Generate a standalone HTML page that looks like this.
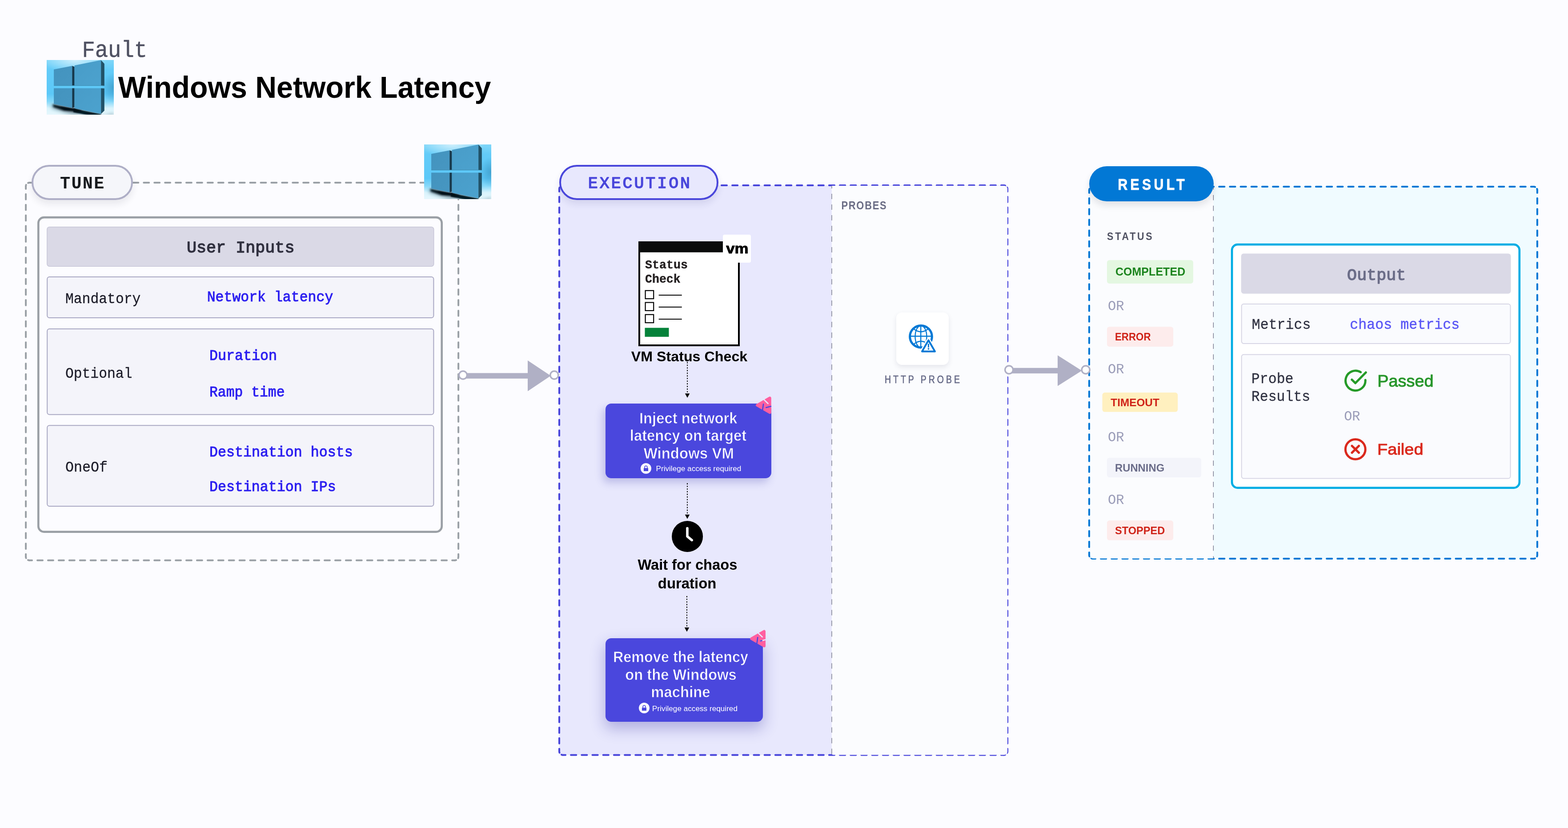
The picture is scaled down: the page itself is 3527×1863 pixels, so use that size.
<!DOCTYPE html>
<html lang="en">
<head>
<meta charset="utf-8">
<title>Windows Network Latency</title>
<style>
html,body{margin:0;padding:0;background:#FCFCFF;}
body{width:3527px;height:1863px;position:relative;overflow:hidden;font-family:"Liberation Sans",sans-serif;}
.abs{position:absolute;box-sizing:border-box;}
svg{position:absolute;left:0;top:0;overflow:visible;will-change:transform;}
text{white-space:pre;}
.s{font-family:"Liberation Sans",sans-serif;font-weight:400;}
.sb{font-family:"Liberation Sans",sans-serif;font-weight:700;}
.m{font-family:"Liberation Mono",monospace;font-weight:400;}
.mb{font-family:"Liberation Mono",monospace;font-weight:700;}

.pill{border-radius:40px;box-shadow:0 9px 16px rgba(30,30,50,0.09);}
.bluebox{background:#4A47DD;border-radius:13px;}
.hdr{background:#DAD9E6;border-radius:8px;}
.row{background:#F4F4FA;border:1.5px solid #A9A8C3;border-radius:8px;}
.orow{background:#FAFBFE;border:1.5px solid #D3D2E3;border-radius:8px;}
.badge{border-radius:7px;}

</style>
</head>
<body>
<svg width="3527" height="1863" viewBox="0 0 3527 1863" xmlns="http://www.w3.org/2000/svg">

<defs>
<linearGradient id="wbg" x1="0" y1="0" x2="0" y2="1">
<stop offset="0" stop-color="#7FD6F9"/><stop offset="0.18" stop-color="#63CBF8"/><stop offset="0.62" stop-color="#5CC8F8"/><stop offset="0.76" stop-color="#86D8F9"/><stop offset="0.88" stop-color="#D9F3FC"/><stop offset="1" stop-color="#E6F7FD"/>
</linearGradient>
<radialGradient id="whl" cx="0.5" cy="0.5" r="0.5"><stop offset="0" stop-color="#FFFFFF" stop-opacity="0.62"/><stop offset="1" stop-color="#FFFFFF" stop-opacity="0"/></radialGradient>
<radialGradient id="wdk" cx="0.5" cy="0.5" r="0.5"><stop offset="0" stop-color="#3A97C4" stop-opacity="0.75"/><stop offset="1" stop-color="#3A97C4" stop-opacity="0"/></radialGradient>
<linearGradient id="wp1" x1="0" y1="0" x2="1" y2="1"><stop offset="0" stop-color="#4393BE"/><stop offset="1" stop-color="#4797C2"/></linearGradient>
<linearGradient id="wp2" x1="0" y1="0" x2="1" y2="1"><stop offset="0" stop-color="#489CC8"/><stop offset="1" stop-color="#4CA2CE"/></linearGradient>
<filter id="wblur" x="-30%" y="-200%" width="160%" height="500%"><feGaussianBlur stdDeviation="3.5"/></filter>
<filter id="wblur2" x="-30%" y="-80%" width="160%" height="260%"><feGaussianBlur stdDeviation="2.1"/></filter>
<filter id="wblur3" x="-30%" y="-80%" width="160%" height="260%"><feGaussianBlur stdDeviation="1.2"/></filter>
<clipPath id="wclip"><rect x="0" y="0" width="151" height="123"/></clipPath>
<g id="win" clip-path="url(#wclip)">
<rect x="0" y="0" width="151" height="123" fill="url(#wbg)"/>
<ellipse cx="64" cy="0" rx="72" ry="30" fill="url(#whl)"/>
<ellipse cx="150" cy="62" rx="26" ry="34" fill="url(#wdk)"/>
<polygon points="8,100 60,113 124,125 151,119 151,126 60,126 12,110" fill="#0B3F57" opacity="0.30" filter="url(#wblur)"/>
<polygon points="60,109 122.2,121.6 123,127 100,125.5 60,117.5" fill="#031B28" filter="url(#wblur3)"/>
<polygon points="13.5,99.5 57,108.5 62.6,109 80,113.5 70,117.5 38,114 15,106" fill="#010D15" filter="url(#wblur2)"/>
<polygon points="30,105 57,109 64,110 70,114 40,112" fill="#010D15" filter="url(#wblur3)"/>
<polygon points="16.1,21.3 57.3,13.3 57.3,57.3 16.1,57.3" fill="url(#wp1)"/>
<polygon points="57.3,13.3 62.6,15.3 62.6,57.3 57.3,57.3" fill="#17384B"/>
<polygon points="62.6,12.3 122.2,0.3 122.2,57.3 62.6,57.3" fill="url(#wp2)"/>
<polygon points="122.2,0.3 129.8,8.4 129.8,57.9 122.2,57.3" fill="#215268"/>
<polygon points="16.1,63.6 57.3,63.6 57.3,107.7 16.1,98.8" fill="url(#wp1)"/>
<polygon points="57.3,63.6 62.6,63.6 62.6,106.2 57.3,107.7" fill="#17384B"/>
<polygon points="62.6,63.6 122.2,63.6 122.2,121.3 62.6,108.7" fill="url(#wp2)"/>
<polygon points="122.2,63.6 129.8,64.1 129.8,114 122.2,121.3" fill="#215268"/>
<rect x="16.1" y="57" width="113.7" height="1.2" fill="#2E6F8E" opacity="0.6"/>
</g>
<g id="lock">
<circle cx="0" cy="0" r="12" fill="#F8F8FE"/>
<rect x="-5" y="-0.8" width="10" height="6.8" fill="#4A47DD"/>
<path d="M-2.9,-0.5 V-2.8 A2.9,2.9 0 0 1 2.9,-2.8 V-0.5" fill="none" stroke="#4A47DD" stroke-width="1.6"/>
</g>
</defs>

<rect x="1258" y="417" width="1008.1" height="1281.7" rx="8" fill="#E8E8FD"/>
<rect x="2450" y="420" width="1007.9" height="837" rx="8" fill="#F0FBFF"/>
<path d="M66.1,411 H1023.0999999999999" fill="none" stroke="#9AA0A6" stroke-width="4" stroke-linecap="round" stroke-dasharray="11.962 11.962" stroke-dashoffset="5.981"/>
<path d="M1031.1,419 V1252.8" fill="none" stroke="#9AA0A6" stroke-width="4" stroke-linecap="round" stroke-dasharray="11.911 11.911" stroke-dashoffset="5.956"/>
<path d="M66.1,1260.8 H1023.0999999999999" fill="none" stroke="#9AA0A6" stroke-width="4" stroke-linecap="round" stroke-dasharray="11.962 11.962" stroke-dashoffset="5.981"/>
<path d="M58.1,419 V1252.8" fill="none" stroke="#9AA0A6" stroke-width="4" stroke-linecap="round" stroke-dasharray="11.911 11.911" stroke-dashoffset="5.956"/>
<path d="M58.1,419 A8,8 0 0 1 66.1,411" fill="none" stroke="#9AA0A6" stroke-width="4" stroke-linecap="round" stroke-dasharray="6.283 6.283" stroke-dashoffset="3.142"/>
<path d="M1023.0999999999999,411 A8,8 0 0 1 1031.1,419" fill="none" stroke="#9AA0A6" stroke-width="4" stroke-linecap="round" stroke-dasharray="6.283 6.283" stroke-dashoffset="3.142"/>
<path d="M1031.1,1252.8 A8,8 0 0 1 1023.0999999999999,1260.8" fill="none" stroke="#9AA0A6" stroke-width="4" stroke-linecap="round" stroke-dasharray="6.283 6.283" stroke-dashoffset="3.142"/>
<path d="M66.1,1260.8 A8,8 0 0 1 58.1,1252.8" fill="none" stroke="#9AA0A6" stroke-width="4" stroke-linecap="round" stroke-dasharray="6.283 6.283" stroke-dashoffset="3.142"/>
<path d="M1266,417 H2258.1" fill="none" stroke="#4946DB" stroke-width="4.1" stroke-linecap="round" stroke-dasharray="12.099 12.099" stroke-dashoffset="6.049"/>
<path d="M2266.1,425 V1690.7" fill="none" stroke="#4946DB" stroke-width="4.1" stroke-linecap="round" stroke-dasharray="11.941 11.941" stroke-dashoffset="5.970"/>
<path d="M1266,1698.7 H2258.1" fill="none" stroke="#4946DB" stroke-width="4.1" stroke-linecap="round" stroke-dasharray="12.099 12.099" stroke-dashoffset="6.049"/>
<path d="M1258,425 V1690.7" fill="none" stroke="#4946DB" stroke-width="4.1" stroke-linecap="round" stroke-dasharray="11.941 11.941" stroke-dashoffset="5.970"/>
<path d="M1258,425 A8,8 0 0 1 1266,417" fill="none" stroke="#4946DB" stroke-width="4.1" stroke-linecap="round" stroke-dasharray="6.283 6.283" stroke-dashoffset="3.142"/>
<path d="M2258.1,417 A8,8 0 0 1 2266.1,425" fill="none" stroke="#4946DB" stroke-width="4.1" stroke-linecap="round" stroke-dasharray="6.283 6.283" stroke-dashoffset="3.142"/>
<path d="M2266.1,1690.7 A8,8 0 0 1 2258.1,1698.7" fill="none" stroke="#4946DB" stroke-width="4.1" stroke-linecap="round" stroke-dasharray="6.283 6.283" stroke-dashoffset="3.142"/>
<path d="M1266,1698.7 A8,8 0 0 1 1258,1690.7" fill="none" stroke="#4946DB" stroke-width="4.1" stroke-linecap="round" stroke-dasharray="6.283 6.283" stroke-dashoffset="3.142"/>
<path d="M1870.9,417.9 H2258 Q2266,417.9 2266,425.9 V1690.5 Q2266,1698.5 2258,1698.5 H1875 Q1870.9,1698.5 1870.9,1694 Z" fill="#FBFCFE"/>
<line x1="1870.9" y1="417.9" x2="1870.9" y2="1698" stroke="#9496A6" stroke-width="1.9" stroke-dasharray="12.1 11.91" stroke-dashoffset="6"/>
<path d="M2458,420 H3449.9" fill="none" stroke="#0278D5" stroke-width="4.1" stroke-linecap="round" stroke-dasharray="12.096 12.096" stroke-dashoffset="6.048"/>
<path d="M3457.9,428 V1249" fill="none" stroke="#0278D5" stroke-width="4.1" stroke-linecap="round" stroke-dasharray="12.074 12.074" stroke-dashoffset="6.037"/>
<path d="M2458,1257 H3449.9" fill="none" stroke="#0278D5" stroke-width="4.1" stroke-linecap="round" stroke-dasharray="12.096 12.096" stroke-dashoffset="6.048"/>
<path d="M2450,428 V1249" fill="none" stroke="#0278D5" stroke-width="4.1" stroke-linecap="round" stroke-dasharray="12.074 12.074" stroke-dashoffset="6.037"/>
<path d="M2450,428 A8,8 0 0 1 2458,420" fill="none" stroke="#0278D5" stroke-width="4.1" stroke-linecap="round" stroke-dasharray="6.283 6.283" stroke-dashoffset="3.142"/>
<path d="M3449.9,420 A8,8 0 0 1 3457.9,428" fill="none" stroke="#0278D5" stroke-width="4.1" stroke-linecap="round" stroke-dasharray="6.283 6.283" stroke-dashoffset="3.142"/>
<path d="M3457.9,1249 A8,8 0 0 1 3449.9,1257" fill="none" stroke="#0278D5" stroke-width="4.1" stroke-linecap="round" stroke-dasharray="6.283 6.283" stroke-dashoffset="3.142"/>
<path d="M2458,1257 A8,8 0 0 1 2450,1249" fill="none" stroke="#0278D5" stroke-width="4.1" stroke-linecap="round" stroke-dasharray="6.283 6.283" stroke-dashoffset="3.142"/>
<path d="M2452.2,422 H2729.4 V1256.4 H2459 Q2452.2,1256.4 2452.2,1249 Z" fill="#FBFCFE"/>
<line x1="2729.4" y1="422" x2="2729.4" y2="1256" stroke="#6B6B82" stroke-width="1.3" stroke-dasharray="11.7 12.2" stroke-dashoffset="-16.80"/>
<rect x="86.3" y="489.1" width="907.4" height="707.5" rx="12.7" fill="#FCFCFF" stroke="#9A9FA5" stroke-width="4.6"/>
<rect x="105.85000000000001" y="510.65" width="869.9000000000001" height="88.7" rx="5.35" fill="#DAD9E6" stroke="#C2C1D4" stroke-width="1.3"/>
<rect x="106.2" y="623.0" width="869.2" height="92.0" rx="5.0" fill="#F4F4FA" stroke="#A9A8C3" stroke-width="2.0"/>
<rect x="106.2" y="740.0" width="869.2" height="192.8" rx="5.0" fill="#F4F4FA" stroke="#A9A8C3" stroke-width="2.0"/>
<rect x="106.2" y="957.2" width="869.2" height="181.8" rx="5.0" fill="#F4F4FA" stroke="#A9A8C3" stroke-width="2.0"/>
<rect x="2490" y="585.2" width="194" height="52.7" rx="5.5" fill="#E4F7E1"/>
<rect x="2490" y="735.2" width="149.1" height="44.7" rx="5.5" fill="#FDECEC"/>
<rect x="2479.5" y="883.3" width="169.7" height="43.5" rx="5.5" fill="#FFF0BF"/>
<rect x="2490" y="1030" width="211.9" height="44" rx="5.5" fill="#F3F4FA"/>
<rect x="2490" y="1171.1" width="149.1" height="44.5" rx="5.5" fill="#FDECEC"/>
<rect x="2771.125" y="550.125" width="646.65" height="547.5500000000001" rx="12.675" fill="#FFFFFF" stroke="#00ADE4" stroke-width="4.65"/>
<rect x="2791.7" y="570.6" width="606.8" height="90.1" rx="6" fill="#DAD9E6"/>
<rect x="2792.7" y="684.1" width="604.8" height="88.9" rx="5.0" fill="#FAFBFE" stroke="#D7D6E5" stroke-width="2.0"/>
<rect x="2792.7" y="797.85" width="604.8" height="278.75" rx="5.0" fill="#FAFBFE" stroke="#D7D6E5" stroke-width="2.0"/>
</svg>
<div class="abs pill" style="left:71px;top:371px;width:228px;height:79px;border:4px solid #AEAEC6;background:#F5F6FA;"></div>
<div class="abs pill" style="left:1258px;top:371px;width:358px;height:79px;border:4px solid #4946DB;background:#E8E8FD;box-shadow:0 9px 16px rgba(50,50,120,0.11);"></div>
<div class="abs bluebox" style="left:1362px;top:908px;width:373px;height:168px;box-shadow:-6px 10px 18px rgba(60,58,170,0.25);"></div>
<div class="abs bluebox" style="left:1362px;top:1436px;width:354px;height:188px;box-shadow:0 14px 32px 2px rgba(50,48,160,0.30);"></div>
<div class="abs " style="left:2016px;top:703px;width:117.5px;height:117.5px;background:#fff;border-radius:13px;box-shadow:0 5px 12px rgba(40,40,80,0.10);"></div>
<div class="abs pill" style="left:2450px;top:374px;width:280px;height:79px;background:#0278D5;box-shadow:0 9px 16px rgba(20,20,40,0.11);"></div>
<svg width="3527" height="1863" viewBox="0 0 3527 1863" xmlns="http://www.w3.org/2000/svg">
<use href="#win" x="105" y="135"/>
<use href="#win" x="954" y="325"/>
<circle cx="1246.8" cy="844" r="9" fill="#fff" stroke="#B0B0C5" stroke-width="3.5"/><rect x="1041.5" y="839.4" width="146.5" height="12.4" fill="#B0B0C5"/><polygon points="1187,811.0 1238.8,845.6 1187,880.2" fill="#B0B0C5"/><circle cx="1041.5" cy="844" r="9" fill="#fff" stroke="#B0B0C5" stroke-width="3.5"/>
<circle cx="2442.2" cy="832" r="9" fill="#fff" stroke="#B0B0C5" stroke-width="3.5"/><rect x="2269.7" y="827.8" width="110.30000000000018" height="12.4" fill="#B0B0C5"/><polygon points="2379,799.6 2433.4,834 2379,868.4" fill="#B0B0C5"/><circle cx="2269.7" cy="832" r="9" fill="#fff" stroke="#B0B0C5" stroke-width="3.5"/>
<rect x="1438" y="545" width="224" height="232" fill="#fff" stroke="#000" stroke-width="4"/>
<rect x="1436" y="543" width="228" height="24.7" fill="#0B0C0C"/>
<rect x="1626" y="528" width="63" height="63" rx="4" fill="#fff"/>
<rect x="1451.6" y="653.8000000000001" width="18.6" height="18.3" fill="none" stroke="#000" stroke-width="2.2"/>
<rect x="1481.7" y="663.1" width="52" height="2" fill="#000"/>
<rect x="1451.6" y="680.6" width="18.6" height="18.3" fill="none" stroke="#000" stroke-width="2.2"/>
<rect x="1481.7" y="689.9" width="52" height="2" fill="#000"/>
<rect x="1451.6" y="707.8000000000001" width="18.6" height="18.3" fill="none" stroke="#000" stroke-width="2.2"/>
<rect x="1481.7" y="717.1" width="52" height="2" fill="#000"/>
<rect x="1450.5" y="737.6" width="54" height="20.2" fill="#05823A"/>
<line x1="1546.1" y1="814.5" x2="1546.1" y2="886" stroke="#000" stroke-width="1.9" stroke-dasharray="2.9 3.05"/><polygon points="1540.8,885.2 1551.3999999999999,885.2 1546.1,895" fill="#0B0B0B"/>
<line x1="1546" y1="1087" x2="1546" y2="1158.5" stroke="#000" stroke-width="1.9" stroke-dasharray="2.9 3.05"/><polygon points="1540.7,1157.7 1551.3,1157.7 1546,1167.5" fill="#0B0B0B"/>
<line x1="1545" y1="1341" x2="1545" y2="1412.6" stroke="#000" stroke-width="1.9" stroke-dasharray="2.9 3.05"/><polygon points="1539.7,1411.8 1550.3,1411.8 1545,1421.6" fill="#0B0B0B"/>
<polygon points="1703.40,911.80 1731.60,895.52 1731.60,928.08" fill="#FF5FA0" stroke="#FF5FA0" stroke-width="6.4" stroke-linejoin="round"/><line x1="1717.6" y1="898.4" x2="1727.6" y2="908.0" stroke="#E8E8FD" stroke-width="2.6" stroke-linecap="round"/><line x1="1717.1" y1="909.2" x2="1715.2" y2="923.0" stroke="#4A47DD" stroke-width="2.6" stroke-linecap="round"/><line x1="1723.2" y1="917.0" x2="1734.0" y2="914.3" stroke="#4A47DD" stroke-width="2.6" stroke-linecap="round"/>
<polygon points="1690.60,1437.00 1718.80,1420.72 1718.80,1453.28" fill="#FF5FA0" stroke="#FF5FA0" stroke-width="6.4" stroke-linejoin="round"/><line x1="1704.8" y1="1423.6" x2="1714.8" y2="1433.2" stroke="#E8E8FD" stroke-width="2.6" stroke-linecap="round"/><line x1="1704.3" y1="1434.4" x2="1702.4" y2="1448.2" stroke="#4A47DD" stroke-width="2.6" stroke-linecap="round"/><line x1="1710.4" y1="1442.2" x2="1721.2" y2="1439.5" stroke="#E8E8FD" stroke-width="2.6" stroke-linecap="round"/><line x1="1710.4" y1="1442.2" x2="1713.7" y2="1441.4" stroke="#4A47DD" stroke-width="2.6" stroke-linecap="round"/>
<use href="#lock" x="1453" y="1054"/>
<use href="#lock" x="1449" y="1593"/>
<circle cx="1546.1" cy="1207" r="35" fill="#000"/>
<path d="M1546,1188.5 V1206.8 L1556.2,1215.3" fill="none" stroke="#fff" stroke-width="5.6" stroke-linecap="round" stroke-linejoin="round"/>
<g fill="none" stroke="#0278D5"><circle cx="2071.5" cy="757.3" r="24.8" stroke-width="5"/><ellipse cx="2071.5" cy="757.3" rx="13" ry="24.8" stroke-width="2.4"/><line x1="2047.5" y1="756.5" x2="2095.5" y2="756.5" stroke-width="2.4"/><line x1="2071.2" y1="733.3" x2="2071.2" y2="781.3" stroke-width="2.4"/><path d="M2055.0,739.8 Q2071.5,753.3 2088.0,739.8" stroke-width="2.4"/><path d="M2055.0,774.8 Q2071.5,760.8 2088.0,774.8" stroke-width="2.4"/></g>
<path d="M2088.5,765.6 L2103,790.7 H2074 Z" fill="#fff" stroke="#fff" stroke-width="9" stroke-linejoin="round"/>
<path d="M2088.5,765.6 L2103,790.7 H2074 Z" fill="#fff" stroke="#0278D5" stroke-width="4" stroke-linejoin="round"/>
<rect x="2087" y="773.5" width="3" height="8.3" fill="#0278D5"/><circle cx="2088.5" cy="784.9" r="1.9" fill="#0278D5"/>
<path d="M3071.2,855 A22.3,22.3 0 1 1 3060.6,837.4" fill="none" stroke="#259A28" stroke-width="5" stroke-linecap="round"/>
<path d="M3040.8,854.2 L3048.7,862 L3072.3,838" fill="none" stroke="#259A28" stroke-width="5" stroke-linecap="round" stroke-linejoin="round"/>
<circle cx="3048.8" cy="1010.9" r="22.4" fill="none" stroke="#DA291D" stroke-width="5"/>
<path d="M3041,1003.2 L3056.6,1018.6 M3056.6,1003.2 L3041,1018.6" fill="none" stroke="#DA291D" stroke-width="5" stroke-linecap="round"/>
<g id="labels">
<text class="m" x="184.46" y="127.90" font-size="50.91" fill="#4F5162" textLength="146.60" lengthAdjust="spacingAndGlyphs" style="stroke:#4F5162;stroke-width:0.6px;stroke-linejoin:round;">Fault</text>
<text class="sb" x="265.70" y="220.40" font-size="68.12" fill="#000000" textLength="838.64" lengthAdjust="spacingAndGlyphs">Windows Network Latency</text>
<text class="mb" x="135.00" y="424.20" font-size="38.48" fill="#171A1D" style="letter-spacing:2.333px;">TUNE</text>
<text class="m" x="419.94" y="568.40" font-size="37.42" fill="#30303F" textLength="242.53" lengthAdjust="spacingAndGlyphs" style="stroke:#30303F;stroke-width:1.4px;stroke-linejoin:round;">User Inputs</text>
<text class="m" x="146.91" y="682.05" font-size="33.33" fill="#1C1C28" textLength="169.50" lengthAdjust="spacingAndGlyphs" style="stroke:#1C1C28;stroke-width:0.3px;stroke-linejoin:round;">Mandatory</text>
<text class="m" x="465.67" y="677.70" font-size="32.58" fill="#2D20F0" textLength="283.66" lengthAdjust="spacingAndGlyphs" style="stroke:#2D20F0;stroke-width:1.0px;stroke-linejoin:round;">Network latency</text>
<text class="m" x="146.92" y="849.65" font-size="33.64" fill="#1C1C28" textLength="150.57" lengthAdjust="spacingAndGlyphs" style="stroke:#1C1C28;stroke-width:0.3px;stroke-linejoin:round;">Optional</text>
<text class="m" x="470.95" y="809.50" font-size="32.58" fill="#2D20F0" textLength="152.19" lengthAdjust="spacingAndGlyphs" style="stroke:#2D20F0;stroke-width:1.0px;stroke-linejoin:round;">Duration</text>
<text class="m" x="470.97" y="891.80" font-size="32.58" fill="#2D20F0" textLength="169.55" lengthAdjust="spacingAndGlyphs" style="stroke:#2D20F0;stroke-width:1.0px;stroke-linejoin:round;">Ramp time</text>
<text class="m" x="146.91" y="1060.85" font-size="33.64" fill="#1C1C28" textLength="95.04" lengthAdjust="spacingAndGlyphs" style="stroke:#1C1C28;stroke-width:0.3px;stroke-linejoin:round;">OneOf</text>
<text class="m" x="470.96" y="1027.20" font-size="32.58" fill="#2D20F0" textLength="322.83" lengthAdjust="spacingAndGlyphs" style="stroke:#2D20F0;stroke-width:1.0px;stroke-linejoin:round;">Destination hosts</text>
<text class="m" x="470.96" y="1104.80" font-size="32.58" fill="#2D20F0" textLength="284.74" lengthAdjust="spacingAndGlyphs" style="stroke:#2D20F0;stroke-width:1.0px;stroke-linejoin:round;">Destination IPs</text>
<text class="m" x="1322.85" y="423.25" font-size="36.67" fill="#4946DB" style="letter-spacing:3.900px;stroke:#4946DB;stroke-width:1.5px;stroke-linejoin:round;">EXECUTION</text>
<text class="sb" x="1633.20" y="569.60" font-size="31.5" fill="#000000" textLength="50.39" lengthAdjust="spacingAndGlyphs" style="stroke:#000000;stroke-width:1.0px;stroke-linejoin:round;">vm</text>
<text class="mb" x="1451.10" y="603.80" font-size="27.42" fill="#231F20" textLength="95.97" lengthAdjust="spacingAndGlyphs" style="stroke:#231F20;stroke-width:0.4px;stroke-linejoin:round;">Status</text>
<text class="mb" x="1451.10" y="636.10" font-size="27.42" fill="#231F20" textLength="79.63" lengthAdjust="spacingAndGlyphs" style="stroke:#231F20;stroke-width:0.4px;stroke-linejoin:round;">Check</text>
<text class="sb" x="1419.70" y="812.90" font-size="31.45" fill="#000000" textLength="261.56" lengthAdjust="spacingAndGlyphs">VM Status Check</text>
<text class="sb" x="1437.90" y="952.75" font-size="34.49" fill="#FFFFFF" textLength="220.73" lengthAdjust="spacingAndGlyphs" style="stroke:#4A47DD;stroke-width:0.9px;stroke-linejoin:round;">Inject network</text>
<text class="sb" x="1416.80" y="992.45" font-size="34.49" fill="#FFFFFF" textLength="262.41" lengthAdjust="spacingAndGlyphs" style="stroke:#4A47DD;stroke-width:0.9px;stroke-linejoin:round;">latency on target</text>
<text class="sb" x="1447.65" y="1032.15" font-size="34.49" fill="#FFFFFF" textLength="203.27" lengthAdjust="spacingAndGlyphs" style="stroke:#4A47DD;stroke-width:0.9px;stroke-linejoin:round;">Windows VM</text>
<text class="s" x="1475.47" y="1059.90" font-size="16.67" fill="#FFFFFF" textLength="191.83" lengthAdjust="spacingAndGlyphs">Privilege access required</text>
<text class="sb" x="1434.40" y="1282.10" font-size="33.91" fill="#000000" textLength="223.95" lengthAdjust="spacingAndGlyphs">Wait for chaos</text>
<text class="sb" x="1479.83" y="1324.10" font-size="33.91" fill="#000000" textLength="131.46" lengthAdjust="spacingAndGlyphs">duration</text>
<text class="sb" x="1378.91" y="1489.85" font-size="34.49" fill="#FFFFFF" textLength="304.15" lengthAdjust="spacingAndGlyphs" style="stroke:#4A47DD;stroke-width:0.9px;stroke-linejoin:round;">Remove the latency</text>
<text class="sb" x="1406.20" y="1529.75" font-size="34.49" fill="#FFFFFF" textLength="250.64" lengthAdjust="spacingAndGlyphs" style="stroke:#4A47DD;stroke-width:0.9px;stroke-linejoin:round;">on the Windows</text>
<text class="sb" x="1464.34" y="1569.45" font-size="34.49" fill="#FFFFFF" textLength="133.28" lengthAdjust="spacingAndGlyphs" style="stroke:#4A47DD;stroke-width:0.9px;stroke-linejoin:round;">machine</text>
<text class="s" x="1467.07" y="1599.80" font-size="16.67" fill="#FFFFFF" textLength="191.93" lengthAdjust="spacingAndGlyphs">Privilege access required</text>
<text class="sb" transform="translate(1892.42,471.20) scale(0.88,1)" font-size="24.93" fill="#6B6D85" style="letter-spacing:1.973px;">PROBES</text>
<text class="s" transform="translate(1989.96,861.60) scale(0.84,1)" font-size="23.33" fill="#666A87" style="letter-spacing:5.862px;stroke:#666A87;stroke-width:0.6px;stroke-linejoin:round;">HTTP PROBE</text>
<text class="sb" transform="translate(2514.45,426.55) scale(0.85,1)" font-size="35.51" fill="#FFFFFF" style="letter-spacing:7.482px;stroke:#FFFFFF;stroke-width:0.9px;stroke-linejoin:round;">RESULT</text>
<text class="sb" transform="translate(2490.10,539.80) scale(0.9,1)" font-size="23.91" fill="#4F5162" style="letter-spacing:4.156px;">STATUS</text>
<text class="sb" x="2508.90" y="619.80" font-size="24.93" fill="#1B841D" style="letter-spacing:0.100px;">COMPLETED</text>
<text class="m" x="2491.95" y="697.60" font-size="32.12" fill="#9A9CB8" textLength="36.67" lengthAdjust="spacingAndGlyphs">OR</text>
<text class="m" x="2491.95" y="839.80" font-size="32.12" fill="#9A9CB8" textLength="36.67" lengthAdjust="spacingAndGlyphs">OR</text>
<text class="m" x="2491.95" y="992.90" font-size="32.12" fill="#9A9CB8" textLength="36.67" lengthAdjust="spacingAndGlyphs">OR</text>
<text class="m" x="2491.95" y="1134.00" font-size="32.12" fill="#9A9CB8" textLength="36.67" lengthAdjust="spacingAndGlyphs">OR</text>
<text class="sb" x="2508.00" y="766.30" font-size="24.78" fill="#CF2318" textLength="80.49" lengthAdjust="spacingAndGlyphs">ERROR</text>
<text class="sb" x="2498.30" y="913.90" font-size="24.78" fill="#CF2318" textLength="109.45" lengthAdjust="spacingAndGlyphs">TIMEOUT</text>
<text class="sb" x="2507.94" y="1060.60" font-size="24.78" fill="#6B6D8A" textLength="111.32" lengthAdjust="spacingAndGlyphs">RUNNING</text>
<text class="sb" x="2507.95" y="1201.70" font-size="24.78" fill="#CF2318" textLength="112.26" lengthAdjust="spacingAndGlyphs">STOPPED</text>
<text class="m" x="3030.12" y="629.70" font-size="37.27" fill="#6B6D88" textLength="132.12" lengthAdjust="spacingAndGlyphs" style="stroke:#6B6D88;stroke-width:1.4px;stroke-linejoin:round;">Output</text>
<text class="m" x="2815.80" y="740.45" font-size="33.33" fill="#2E3040" textLength="132.55" lengthAdjust="spacingAndGlyphs" style="stroke:#2E3040;stroke-width:0.3px;stroke-linejoin:round;">Metrics</text>
<text class="m" x="3036.35" y="740.35" font-size="33.33" fill="#5B57F5" textLength="246.91" lengthAdjust="spacingAndGlyphs" style="stroke:#5B57F5;stroke-width:0.5px;stroke-linejoin:round;">chaos metrics</text>
<text class="m" x="2814.86" y="861.55" font-size="33.33" fill="#2E3040" textLength="94.70" lengthAdjust="spacingAndGlyphs" style="stroke:#2E3040;stroke-width:0.3px;stroke-linejoin:round;">Probe</text>
<text class="m" x="2814.86" y="902.45" font-size="33.33" fill="#2E3040" textLength="132.40" lengthAdjust="spacingAndGlyphs" style="stroke:#2E3040;stroke-width:0.3px;stroke-linejoin:round;">Results</text>
<text class="s" x="3098.20" y="869.90" font-size="36.09" fill="#27962B" textLength="126.41" lengthAdjust="spacingAndGlyphs" style="stroke:#27962B;stroke-width:1.0px;stroke-linejoin:round;">Passed</text>
<text class="m" x="3023.15" y="945.60" font-size="32.12" fill="#9A9CB8" textLength="36.46" lengthAdjust="spacingAndGlyphs">OR</text>
<text class="s" x="3098.13" y="1023.00" font-size="35.07" fill="#DA291D" textLength="103.39" lengthAdjust="spacingAndGlyphs" style="stroke:#DA291D;stroke-width:1.0px;stroke-linejoin:round;">Failed</text>
</g>
</svg>
</body>
</html>
